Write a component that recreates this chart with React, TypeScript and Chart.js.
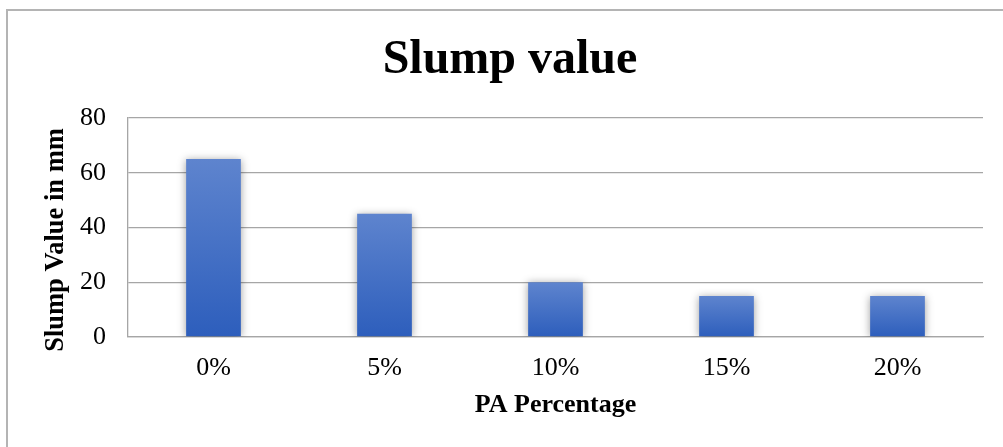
import React, { useEffect, useRef } from "react";
import { Chart, registerables } from "chart.js";

Chart.register(...registerables);

const categories = ["0%", "5%", "10%", "15%", "20%"];
const slumpValues = [65, 45, 20, 15, 15];
const chartTitle = "Slump value";
const xTitle = "PA Percentage";
const yTitle = "Slump Value in mm";
const yMin = 0;
const yMax = 80;
const yStep = 20;

const FONT = "'Liberation Serif', 'Times New Roman', serif";
const GRID = "#a6a6a6";

const shadowPlugin = {
  id: "barShadow",
  beforeDatasetsDraw(chart: any) {
    const c = chart.ctx;
    c.save();
    c.shadowColor = "rgba(0,0,0,0.38)";
    c.shadowBlur = 8;
    c.shadowOffsetX = 0;
    c.shadowOffsetY = 1;
  },
  afterDatasetsDraw(chart: any) {
    chart.ctx.restore();
  },
};

const yTitlePlugin = {
  id: "yTitle",
  afterDraw(chart: any) {
    const c = chart.ctx;
    c.save();
    c.translate(56, 240);
    c.rotate(-Math.PI / 2);
    c.font = `bold 26.5px ${FONT}`;
    c.fillStyle = "#000";
    c.textAlign = "center";
    c.textBaseline = "middle";
    c.fillText(yTitle, 0, 0);
    c.restore();
  },
};

export default function App() {
  const ref = useRef<HTMLCanvasElement | null>(null);

  useEffect(() => {
    if (!ref.current) return;
    const chart = new Chart(ref.current, {
      type: "bar",
      data: {
        labels: categories,
        datasets: [
          {
            label: yTitle,
            data: slumpValues,
            backgroundColor: (ctx: any) => {
              const ch = ctx.chart;
              if (!ch.chartArea || !ch.scales.y || ctx.raw == null) return "#4472C4";
              const top = ch.scales.y.getPixelForValue(ctx.raw);
              const bottom = ch.scales.y.getPixelForValue(0);
              const g = ch.ctx.createLinearGradient(0, top, 0, bottom);
              g.addColorStop(0, "#5E84CE");
              g.addColorStop(1, "#2D5EBC");
              return g;
            },
            borderWidth: 0,
            barPercentage: 0.32,
            categoryPercentage: 1,
          },
        ],
      },
      options: {
        animation: false,
        responsive: false,
        maintainAspectRatio: false,
        layout: { padding: { left: 37, right: 20, top: 0, bottom: 26.6 } },
        plugins: {
          legend: { display: false },
          tooltip: { enabled: false },
          title: {
            display: true,
            text: chartTitle,
            color: "#000",
            font: { family: FONT, size: 48, weight: "bold" },
            padding: { top: 31.6, bottom: 28.8 },
          },
        },
        scales: {
          x: {
            grid: { display: false, drawTicks: false },
            border: { display: true, color: GRID, width: 1.3 },
            ticks: {
              color: "#000",
              font: { family: FONT, size: 26 },
              padding: 16,
            },
            title: {
              display: true,
              text: xTitle,
              color: "#000",
              font: { family: FONT, size: 26, weight: "bold" },
              padding: { top: -10.8, bottom: -0.2 },
            },
          },
          y: {
            min: yMin,
            max: yMax,
            afterFit: (scale: any) => {
              scale.width = 91;
            },
            grid: { color: GRID, lineWidth: 1.3, drawTicks: false },
            border: { display: true, color: GRID, width: 1.3 },
            ticks: {
              stepSize: yStep,
              color: "#000",
              font: { family: FONT, size: 26 },
              padding: 22,
            },
            title: { display: false },
          },
        },
      },
      plugins: [shadowPlugin, yTitlePlugin],
    } as any);
    return () => chart.destroy();
  }, []);

  return (
    <div
      style={{
        position: "fixed",
        left: 0,
        top: 0,
        width: 1003,
        height: 447,
        overflow: "hidden",
        background: "#fff",
      }}
    >
      <div
        style={{
          position: "absolute",
          left: 6,
          top: 9,
          width: 1100,
          height: 600,
          border: "2px solid #b4b4b4",
        }}
      />
      <canvas
        ref={ref}
        width={1003}
        height={447}
        style={{ position: "absolute", left: 0, top: 0, width: 1003, height: 447 }}
      />
    </div>
  );
}
